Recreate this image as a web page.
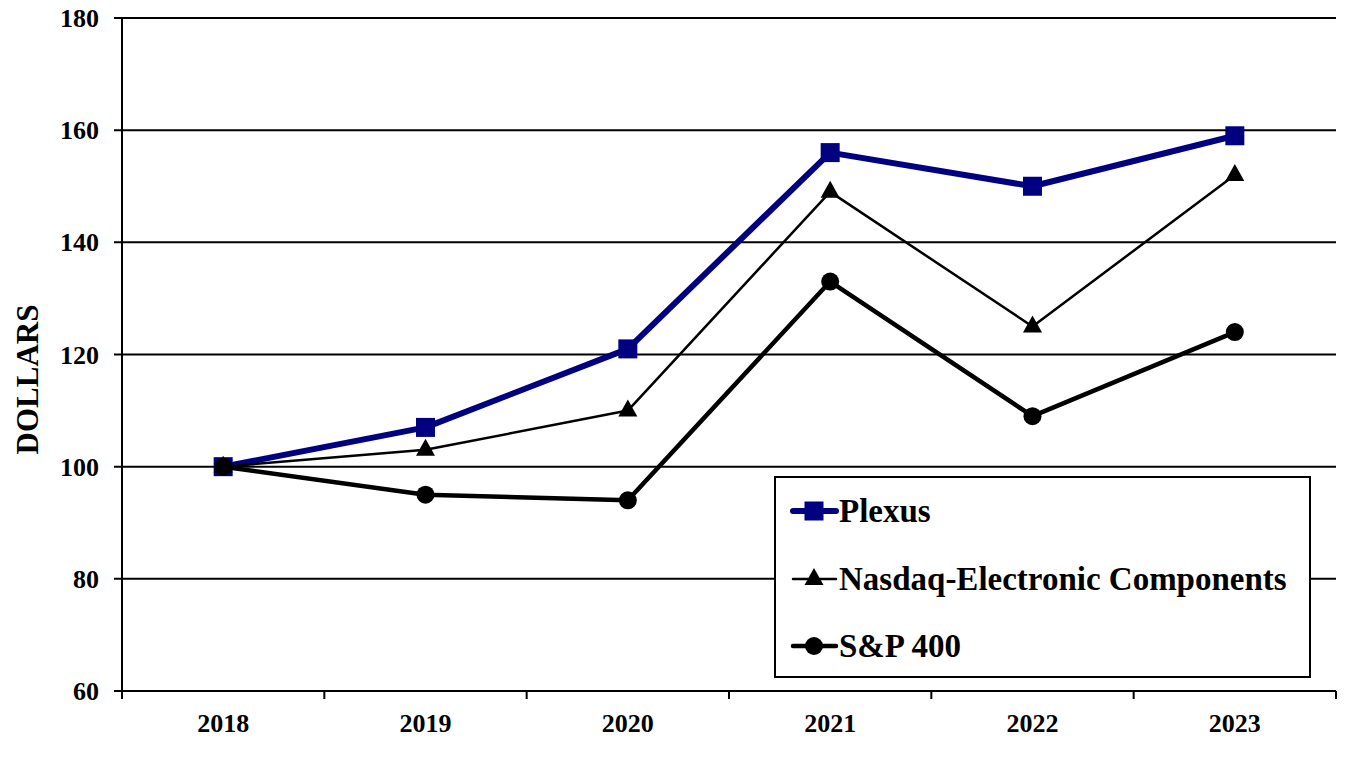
<!DOCTYPE html>
<html>
<head>
<meta charset="utf-8">
<script src="https://cdn.jsdelivr.net/npm/d3@7"></script>
<style>
	html, body { margin: 0; padding: 0; background: #fff; }
	svg { display: block; font-family: "Liberation Serif", "Times New Roman", serif; font-weight: bold; }
</style>
</head>
<body>
<div id="chart"></div>
<script>
const WIDTH = 1372;
const HEIGHT = 758;

// data
const years = ['2018', '2019', '2020', '2021', '2022', '2023'];
const plexus = [100, 107, 121, 156, 150, 159];
const nasdaqElectronic = [100, 103, 110, 149, 125, 152];
const sp400 = [100, 95, 94, 133, 109, 124];
const yTicks = [60, 80, 100, 120, 140, 160, 180];

const series = [
	{ name: 'Plexus', values: plexus, color: '#000080', width: 6, marker: 'square' },
	{ name: 'Nasdaq-Electronic Components', values: nasdaqElectronic, color: '#000', width: 2.5, marker: 'triangle' },
	{ name: 'S&P 400', values: sp400, color: '#000', width: 4.5, marker: 'circle' }
];

const margin = { left: 122, right: 36, top: 18, bottom: 67 };

const svg = d3
	.select('#chart')
	.append('svg')
	.attr('width', WIDTH)
	.attr('height', HEIGHT);

const x = d3
	.scaleBand()
	.domain(years)
	.range([margin.left, WIDTH - margin.right])
	.padding(0);

const y = d3
	.scaleLinear()
	.domain([60, 180])
	.range([HEIGHT - margin.bottom, margin.top]);

const cx = d => x(d) + x.bandwidth() / 2;

// grid lines + y ticks
svg.append('g')
	.selectAll('line')
	.data(yTicks)
	.enter()
	.append('line')
	.attr('x1', margin.left - 8)
	.attr('x2', WIDTH - margin.right)
	.attr('y1', d => y(d))
	.attr('y2', d => y(d))
	.attr('stroke', '#000')
	.attr('stroke-width', 2);

svg.append('g')
	.selectAll('text')
	.data(yTicks)
	.enter()
	.append('text')
	.attr('x', margin.left - 23)
	.attr('y', d => y(d) + 9)
	.attr('text-anchor', 'end')
	.attr('font-size', 26)
	.text(d => d);

// y axis line
svg.append('line')
	.attr('x1', margin.left)
	.attr('x2', margin.left)
	.attr('y1', y(180) - 1)
	.attr('y2', y(60) + 1)
	.attr('stroke', '#000')
	.attr('stroke-width', 2);

// x axis ticks at band edges
const edges = years.map(d => x(d)).concat([x.range()[1]]);
svg.append('g')
	.selectAll('line')
	.data(edges)
	.enter()
	.append('line')
	.attr('x1', d => d)
	.attr('x2', d => d)
	.attr('y1', y(60))
	.attr('y2', y(60) + 8)
	.attr('stroke', '#000')
	.attr('stroke-width', 2);

svg.append('g')
	.selectAll('text')
	.data(years)
	.enter()
	.append('text')
	.attr('x', d => cx(d))
	.attr('y', y(60) + 41)
	.attr('text-anchor', 'middle')
	.attr('font-size', 26)
	.text(d => d);

// y title
svg.append('text')
	.attr('transform', `translate(38, ${y(120) + 25}) rotate(-90)`)
	.attr('text-anchor', 'middle')
	.attr('font-size', 31)
	.text('DOLLARS');

function drawMarker(g, type, px, py, color) {
	if (type === 'square') {
		g.append('rect')
			.attr('x', px - 9.5)
			.attr('y', py - 9.5)
			.attr('width', 19)
			.attr('height', 19)
			.attr('fill', color);
	} else if (type === 'triangle') {
		g.append('path')
			.attr('d', `M${px},${py - 11}L${px + 9.5},${py + 6}L${px - 9.5},${py + 6}Z`)
			.attr('fill', color);
	} else {
		g.append('circle')
			.attr('cx', px)
			.attr('cy', py)
			.attr('r', 9)
			.attr('fill', color);
	}
}

const line = d3
	.line()
	.x((d, i) => cx(years[i]))
	.y(d => y(d));

// series
series.forEach(s => {
	const g = svg.append('g');
	g.append('path')
		.attr('d', line(s.values))
		.attr('fill', 'none')
		.attr('stroke', s.color)
		.attr('stroke-width', s.width)
		.attr('stroke-linejoin', 'round');
	s.values.forEach((v, i) => drawMarker(g, s.marker, cx(years[i]), y(v), s.color));
});

// legend
const legend = svg.append('g');
legend.append('rect')
	.attr('x', 775)
	.attr('y', 477)
	.attr('width', 535)
	.attr('height', 200)
	.attr('fill', '#fff')
	.attr('stroke', '#000')
	.attr('stroke-width', 2);

const legendRows = [511, 579, 646];
series.forEach((s, i) => {
	const ly = legendRows[i];
	legend.append('line')
		.attr('x1', 793)
		.attr('x2', 836)
		.attr('y1', ly)
		.attr('y2', ly)
		.attr('stroke', s.color)
		.attr('stroke-width', s.width)
		.attr('stroke-linecap', 'round');
	drawMarker(legend, s.marker, 814, ly, s.color);
	legend.append('text')
		.attr('x', 839)
		.attr('y', ly + 11)
		.attr('font-size', 33)
		.text(s.name);
});
</script>
</body>
</html>
